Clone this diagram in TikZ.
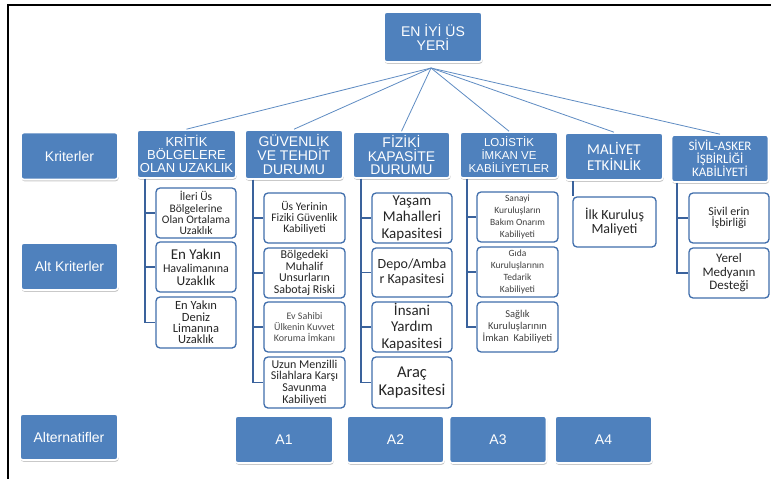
\documentclass[tikz,border=0pt]{standalone}
\usepackage{fontspec}
\setmainfont{Liberation Sans}
\newfontfamily\calib{Carlito}
\usetikzlibrary{shadows}
\definecolor{hblue}{RGB}{79,129,189}
\definecolor{sblue}{RGB}{64,110,172}
\definecolor{tblue}{RGB}{58,98,156}
\definecolor{lblue}{RGB}{95,140,195}
\newcommand\fs[2]{\fontsize{#1}{#2}\selectfont}
\begin{document}
\begin{tikzpicture}[x=1pt,y=-1pt,
 hdr/.style={fill=hblue, draw=white, line width=1.6pt, rounded corners=3pt, text=white, align=center, inner sep=1pt,
   drop shadow={shadow xshift=0.6pt, shadow yshift=-1.8pt, opacity=0.35, fill=black!60}},
 sub/.style={fill=white, draw=sblue, line width=1.3pt, rounded corners=4pt, align=center, text=black!85, inner sep=1pt, font=\calib},
 conn/.style={draw=lblue, line width=0.8pt},
 tree/.style={draw=tblue, line width=1.8pt},
]
\useasboundingbox (0,0) rectangle (771,479);
\fill[white] (0,0) rectangle (771,479);
\draw[line width=1.5pt] (8,479) -- (8,5) -- (771,5);

% top
\node[hdr, minimum width=98, minimum height=50, font=\fs{14}{14}] (top) at (433,37) {EN İYİ ÜS\\YERİ};
\coordinate (hub) at (431,68);

% row labels
\node[hdr, minimum width=97, minimum height=47, font=\fs{14}{16}] (lab1) at (69.5,156) {Kriterler};
\node[hdr, minimum width=97, minimum height=47, font=\fs{14}{16}] (lab2) at (69.5,266.5) {Alt Kriterler};
\node[hdr, minimum width=98, minimum height=46, font=\fs{14}{16}] (lab3) at (69,437) {Alternatifler};

% alternatives
\node[hdr, minimum width=98, minimum height=47, font=\fs{14}{16}] (a1) at (284,439.5) {A1};
\node[hdr, minimum width=97, minimum height=47, font=\fs{14}{16}] (a2) at (395.5,439.5) {A2};
\node[hdr, minimum width=97, minimum height=47, font=\fs{14}{16}] (a3) at (498,439.5) {A3};
\node[hdr, minimum width=97, minimum height=47, font=\fs{14}{16}] (a4) at (603.5,439.5) {A4};

% criteria
\node[hdr, minimum width=99, minimum height=48, font=\fs{13}{13}] (k1) at (186.5,154) {KRİTİK\\BÖLGELERE\\OLAN UZAKLIK};
\node[hdr, minimum width=98, minimum height=49, font=\fs{14}{14}] (k2) at (294,154.5) {GÜVENLİK\\VE TEHDİT\\DURUMU};
\node[hdr, minimum width=97, minimum height=46, font=\fs{14}{13.5}] (k3) at (401.5,155) {FİZİKİ\\KAPASİTE\\DURUMU};
\node[hdr, minimum width=98, minimum height=46, font=\fs{11.5}{13}] (k4) at (509,155) {LOJİSTİK\\İMKAN VE\\KABİLİYETLER};
\node[hdr, minimum width=98, minimum height=47, font=\calib\fs{15}{16}] (k5) at (614,156.5) {MALİYET\\ETKİNLİK};
\node[hdr, minimum width=97, minimum height=47, font=\calib\fs{13}{12.5}] (k6) at (720,158.5) {SİVİL-ASKER\\İŞBİRLİĞİ\\KABİLİYETİ};

% connectors from top
\foreach \k in {k1,k2,k3,k4,k5,k6} \draw[conn] (hub) -- (\k.north);

% sub criteria col 1
\node[sub, minimum width=80, minimum height=50, font=\calib\fs{11.5}{11.3}] (s11) at (196,213) {İleri Üs\\Bölgelerine\\Olan Ortalama\\Uzaklık};
\node[sub, minimum width=80, minimum height=50, font=\calib\fs{13}{13}] (s12) at (196,267) {{\fs{15}{13}En Yakın}\\{\fs{12}{13}Havalimanına}\\{\fs{13.5}{13}Uzaklık}};
\node[sub, minimum width=80, minimum height=51, font=\calib\fs{12.5}{11.3}] (s13) at (196,322.5) {En Yakın\\Deniz\\Limanına\\Uzaklık};
% col 2
\node[sub, minimum width=81, minimum height=50, font=\calib\fs{11.5}{11.3}] (s21) at (304.5,218) {Üs Yerinin\\Fiziki Güvenlik\\Kabiliyeti};
\node[sub, minimum width=81, minimum height=50, font=\calib\fs{12}{11.7}] (s22) at (304.5,273) {Bölgedeki\\Muhalif\\Unsurların\\Sabotaj Riski};
\node[sub, minimum width=81, minimum height=50, font=\calib\fs{10}{11}, text=black!70] (s23) at (304.5,327) {Ev Sahibi\\Ülkenin Kuvvet\\Koruma İmkanı};
\node[sub, minimum width=81, minimum height=51, font=\calib\fs{12}{11.8}] (s24) at (304.5,382.5) {Uzun Menzilli\\Silahlara Karşı\\Savunma\\Kabiliyeti};
% col 3
\node[sub, minimum width=80, minimum height=50, font=\calib\fs{15}{16.5}] (s31) at (412,218) {Yaşam\\Mahalleri\\Kapasitesi};
\node[sub, minimum width=80, minimum height=49, font=\calib\fs{14}{14.5}] (s32) at (412,272.5) {Depo/Amba\\r Kapasitesi};
\node[sub, minimum width=80, minimum height=50, font=\calib\fs{15}{16.5}] (s33) at (412,327) {İnsani\\Yardım\\Kapasitesi};
\node[sub, minimum width=80, minimum height=51, font=\calib\fs{16.5}{18}] (s34) at (412,382.5) {Araç\\Kapasitesi};
% col 4
\node[sub, minimum width=81, minimum height=50, font=\calib\fs{9.5}{12}, text=black!75] (s41) at (517.5,217) {Sanayi\\Kuruluşların\\Bakım Onarım\\Kabiliyeti};
\node[sub, minimum width=81, minimum height=50, font=\calib\fs{9.5}{12}, text=black!75] (s42) at (517.5,272) {Gıda\\Kuruluşlarının\\Tedarik\\Kabiliyeti};
\node[sub, minimum width=81, minimum height=50, font=\calib\fs{10.5}{12}, text=black!75] (s43) at (517.5,327) {Sağlık\\Kuruluşlarının\\İmkan~ Kabiliyeti};
% col 5
\node[sub, minimum width=83, minimum height=50, font=\calib\fs{14}{14.5}] (s51) at (614.5,222) {İlk Kuruluş\\Maliyeti};
% col 6
\node[sub, minimum width=80, minimum height=50, font=\calib\fs{12}{11.5}] (s61) at (729,218) {Sivil erin\\İşbirliği};
\node[sub, minimum width=80, minimum height=50, font=\calib\fs{13}{13.5}] (s62) at (729,273) {Yerel\\Medyanın\\Desteği};

% tree lines
\foreach \s in {s11,s12,s13} \draw[tree] ([xshift=9pt]k1.south west) |- (\s.west);
\foreach \s in {s21,s22,s23,s24} \draw[tree] ([xshift=9pt]k2.south west) |- (\s.west);
\foreach \s in {s31,s32,s33,s34} \draw[tree] ([xshift=9pt]k3.south west) |- (\s.west);
\foreach \s in {s41,s42,s43} \draw[tree] ([xshift=8pt]k4.south west) |- (\s.west);
\draw[tree] ([xshift=9pt]k5.south west) -- ([xshift=9pt]k5.south west |- s51.north);
\foreach \s in {s61,s62} \draw[tree] ([xshift=6pt]k6.south west) |- (\s.west);
\end{tikzpicture}
\end{document}
